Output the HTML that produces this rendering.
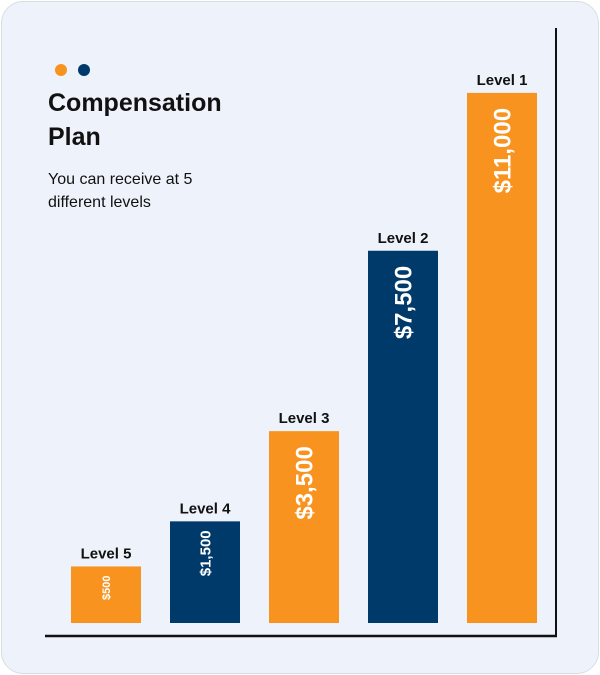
<!DOCTYPE html>
<html><head><meta charset="utf-8"><style>
html,body{margin:0;padding:0;background:#fff;}
body{width:600px;height:675px;position:relative;overflow:hidden;font-family:"Liberation Sans",sans-serif;}
.card{position:absolute;left:1px;top:1px;width:596px;height:671px;border:1px solid #d8dde4;border-radius:22px;background:#eef3fb;}
</style></head><body>
<div class="card"></div>
<svg width="600" height="675" style="position:absolute;left:0;top:0">
<circle cx="61" cy="70" r="6" fill="#f7931e"/>
<circle cx="84" cy="70" r="6" fill="#003a6b"/>
<text x="48" y="111" font-size="25" font-weight="bold" fill="#111">Compensation</text>
<text x="48" y="145" font-size="25" font-weight="bold" fill="#111">Plan</text>
<text x="48" y="184" font-size="16" fill="#111">You can receive at 5</text>
<text x="48" y="207" font-size="16" fill="#111">different levels</text>
<line x1="556" y1="28" x2="556" y2="637" stroke="#111" stroke-width="2"/>
<line x1="45" y1="636" x2="557" y2="636" stroke="#111" stroke-width="2.5"/>
<g id="bars"></g>
</svg>
<script>
const categories=["Level 5","Level 4","Level 3","Level 2","Level 1"];
const values=[500,1500,3500,7500,11000];
const valueLabels=["$500","$1,500","$3,500","$7,500","$11,000"];
const colors=["#f7931e","#003a6b","#f7931e","#003a6b","#f7931e"];
const NS="http://www.w3.org/2000/svg";
const base=623, x0=71, step=99, bw=70;
function yScale(v){return base-(34+0.0451*v);}
const g=document.getElementById('bars');
values.forEach((v,i)=>{
  const x=x0+i*step, y=yScale(v);
  const r=document.createElementNS(NS,'rect');
  r.setAttribute('x',x);r.setAttribute('y',y);r.setAttribute('width',bw);r.setAttribute('height',base-y);r.setAttribute('fill',colors[i]);
  
  
  g.appendChild(r);
  const t=document.createElementNS(NS,'text');
  t.setAttribute('x',x+bw/2);t.setAttribute('y',y-8);t.setAttribute('text-anchor','middle');
  t.setAttribute('font-size','15');t.setAttribute('font-weight','bold');t.setAttribute('fill','#111');
  t.textContent=categories[i];
  
  
  g.appendChild(t);
  const fs=i==0?11:(i==1?15:24);
  const vt=document.createElementNS(NS,'text');
  const cx=x+bw/2+fs*0.36, ty=y+(i<2?9:15);
  vt.setAttribute('x',cx);vt.setAttribute('y',ty);
  vt.setAttribute('transform','rotate(-90 '+cx+' '+ty+')');
  vt.setAttribute('text-anchor','end');vt.setAttribute('font-size',fs);vt.setAttribute('font-weight','bold');vt.setAttribute('fill','#fff');
  vt.textContent=valueLabels[i];
  
  
  g.appendChild(vt);
});
</script>
</body></html>
